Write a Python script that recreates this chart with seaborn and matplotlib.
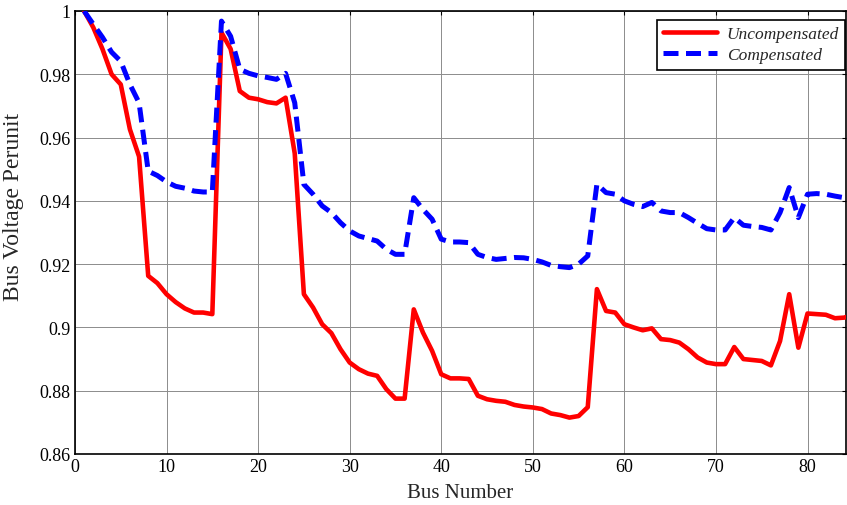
import numpy as np
import pandas as pd
import matplotlib
matplotlib.use("Agg")
import matplotlib.pyplot as plt
import seaborn as sns

buses = list(range(1, 86))
uncompensated = [
    1.000, 0.9948, 0.988, 0.980, 0.9768, 0.9626, 0.954, 0.9163, 0.914, 0.9105,
    0.908, 0.906, 0.9047, 0.9047, 0.9042, 0.9932, 0.988, 0.9747, 0.9726, 0.9721,
    0.9712, 0.9708, 0.9726, 0.955, 0.9105, 0.9063, 0.901, 0.8982, 0.8931, 0.8889,
    0.8868, 0.8854, 0.8847, 0.8805, 0.8775, 0.8775, 0.9057, 0.8984, 0.8926, 0.8852,
    0.8839, 0.8839, 0.8837, 0.8784, 0.8773, 0.8768, 0.8765, 0.8755, 0.875, 0.8747,
    0.8742, 0.8728, 0.8723, 0.8715, 0.872, 0.8748, 0.9121, 0.9052, 0.9047, 0.901,
    0.900, 0.8991, 0.8997, 0.8963, 0.896, 0.8952, 0.8931, 0.8905, 0.8889, 0.8884,
    0.8884, 0.8938, 0.890, 0.8897, 0.8894, 0.888, 0.8957, 0.9105, 0.8936, 0.9044,
    0.9042, 0.904, 0.9029, 0.9031, 0.904,
]
compensated = [
    1.000, 0.9958, 0.9917, 0.987, 0.9841, 0.9768, 0.971, 0.9494, 0.948, 0.946,
    0.9446, 0.944, 0.9431, 0.9428, 0.9428, 0.9968, 0.992, 0.9816, 0.9803, 0.9795,
    0.979, 0.9784, 0.9803, 0.971, 0.9452, 0.9421, 0.9384, 0.9363, 0.9331, 0.9305,
    0.9289, 0.9281, 0.9273, 0.9247, 0.9231, 0.9231, 0.941, 0.9373, 0.9342, 0.9279,
    0.927, 0.927, 0.9268, 0.9231, 0.9221, 0.9215, 0.9218, 0.9221, 0.922, 0.9215,
    0.9207, 0.9196, 0.9192, 0.9189, 0.920, 0.9226, 0.9453, 0.9426, 0.9421, 0.940,
    0.9389, 0.9382, 0.9395, 0.9368, 0.9363, 0.9363, 0.9347, 0.9329, 0.9312, 0.9308,
    0.9308, 0.9347, 0.9323, 0.9319, 0.9316, 0.9308, 0.9363, 0.9442, 0.9347, 0.9421,
    0.9423, 0.9421, 0.9415, 0.941, 0.9405,
]
x_ticks = [0, 10, 20, 30, 40, 50, 60, 70, 80]
y_ticks = [0.86, 0.88, 0.90, 0.92, 0.94, 0.96, 0.98, 1.00]
y_tick_labels = ["0.86", "0.88", "0.9", "0.92", "0.94", "0.96", "0.98", "1"]

sns.set_style("white")
plt.rcParams["font.family"] = ["Liberation Serif", "DejaVu Serif"]

fig = plt.figure(figsize=(8.47, 5.06), dpi=100)
ax = fig.add_axes([0.0885, 0.1008, 0.9103, 0.8755])

sns.lineplot(x=buses, y=uncompensated, ax=ax, color="#ff0000", linewidth=3.3,
             label="Uncompensated", zorder=3)
sns.lineplot(x=buses, y=compensated, ax=ax, color="#0000ff", linewidth=3.6,
             label="Compensated", zorder=3)
ax.lines[1].set_dashes((3.0, 1.5))

ax.set_xlim(0, 84.2)
ax.set_ylim(0.86, 1.0)
ax.set_xticks(x_ticks)
ax.set_yticks(y_ticks)
ax.set_yticklabels(y_tick_labels)
ax.grid(True, color="#8c8c8c", linewidth=0.7, linestyle="-")
ax.set_axisbelow(True)
for s in ax.spines.values():
    s.set_color("black")
    s.set_linewidth(1.2)
ax.tick_params(direction="in", top=True, right=True, length=3, width=0.8,
               labelsize=13, colors="black", pad=3)
ax.set_xlabel("Bus Number", fontsize=15, labelpad=6)
ax.set_ylabel("Bus Voltage Perunit", fontsize=17)
ax.yaxis.set_label_coords(-0.066, 0.56)

leg = ax.legend(loc="upper right", bbox_to_anchor=(0.999, 0.98),
                borderaxespad=0.0, frameon=True, fancybox=False,
                prop={"family": "Liberation Serif", "style": "italic", "size": 12.5},
                handlelength=3.1, handletextpad=0.55, borderpad=0.35,
                labelspacing=0.3)
leg.get_frame().set_edgecolor("black")
leg.get_frame().set_linewidth(1.2)
leg.get_frame().set_alpha(1.0)

fig.savefig("out.png", dpi=100)
